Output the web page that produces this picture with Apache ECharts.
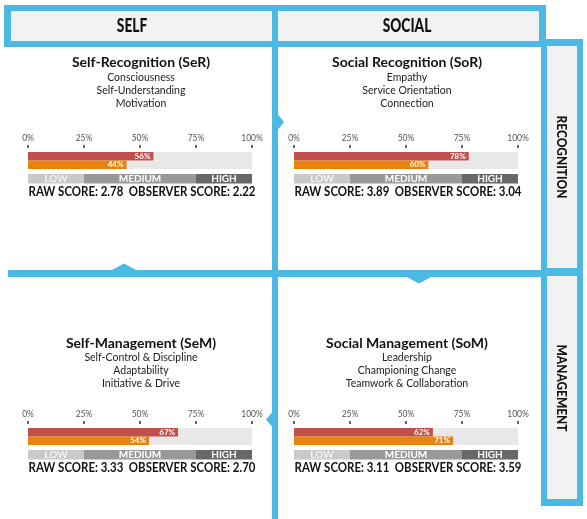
<!DOCTYPE html>
<html>
<head>
<meta charset="utf-8">
<script src="https://cdn.jsdelivr.net/npm/echarts@6/dist/echarts.min.js"></script>
<style>
html,body{margin:0;padding:0;background:#fff;}
#chart{width:587px;height:519px;}
</style>
</head>
<body>
<div id="chart"></div>
<script>
// ---------- data ----------
const columnHeaders = ['SELF', 'SOCIAL'];
const rowHeaders = ['RECOGNITION', 'MANAGEMENT'];
const panelTitles = ['Self-Recognition (SeR)', 'Social Recognition (SoR)', 'Self-Management (SeM)', 'Social Management (SoM)'];
const panelTraits = [
  ['Consciousness', 'Self-Understanding', 'Motivation'],
  ['Empathy', 'Service Orientation', 'Connection'],
  ['Self-Control & Discipline', 'Adaptability', 'Initiative & Drive'],
  ['Leadership', 'Championing Change', 'Teamwork & Collaboration']
];
const barCategories = ['Raw', 'Observer'];
const rawPercent = [56, 78, 67, 62];
const observerPercent = [44, 60, 54, 71];
const rawScores = ['2.78', '3.89', '3.33', '3.11'];
const observerScores = ['2.22', '3.04', '2.70', '3.59'];
const axisMin = 0, axisMax = 100, axisStep = 25;
const bandNames = ['LOW', 'MEDIUM', 'HIGH'];
const bandSpans = [25, 50, 25];

// ---------- style / layout ----------
const BLUE = '#4cb8e4';
const HEAD_BG = '#f2f2f2';
const barColors = ['#c0504d', '#e8830f'];
const bandColors = ['#c9c9c9', '#999999', '#686868'];
const FONT = 'Lato';
const colLeft = [28, 294];
const colCenter = [141, 407];
const rowBarTop = [152, 428];
const rowTitleY = [62, 343];
const rowSubY = [78, 358];
const rowScoreY = [192, 468];

const grids = [], xAxes = [], yAxes = [], series = [];
const graphics = [];

function rect(x, y, w, h, fill) {
  graphics.push({ type: 'rect', shape: { x, y, width: w, height: h }, style: { fill }, silent: true, z: 1 });
}
function poly(points, fill) {
  graphics.push({ type: 'polygon', shape: { points }, style: { fill }, silent: true, z: 1 });
}
function text(str, x, y, opts) {
  graphics.push(Object.assign({
    type: 'text', x, y, silent: true, z: 5,
    style: Object.assign({ text: str, x: 0, y: 0, align: 'center', verticalAlign: 'middle', fontFamily: FONT, fill: '#111' }, opts.style || {})
  }, opts.el || {}));
}

// frame
rect(4, 5, 542, 42, BLUE);
rect(11, 11, 261, 30, HEAD_BG);
rect(278, 11, 261, 30, HEAD_BG);
rect(272, 41, 6, 478, BLUE);
rect(8, 270, 536, 7, BLUE);
rect(541, 39, 42, 467, BLUE);
rect(547, 46, 30, 222, HEAD_BG);
rect(547, 276, 30, 223, HEAD_BG);
poly([[111, 270.5], [124, 263.5], [137, 270.5]], BLUE);
poly([[406, 276.5], [419, 283.5], [432, 276.5]], BLUE);
poly([[277.5, 114], [284, 122], [277.5, 130]], BLUE);
poly([[272.5, 412], [266, 419.5], [272.5, 427]], BLUE);

// headers
text(columnHeaders[0], 132, 26.5, { style: { fontSize: 18, fontWeight: 900, fill: '#111' }, el: { scaleX: 0.76 } });
text(columnHeaders[1], 407, 26.5, { style: { fontSize: 18, fontWeight: 900, fill: '#111' }, el: { scaleX: 0.76 } });
text(rowHeaders[0], 562, 157, { style: { fontSize: 14, fontWeight: 900, fill: '#111' }, el: { rotation: -Math.PI / 2, scaleX: 0.85 } });
text(rowHeaders[1], 562, 388, { style: { fontSize: 14, fontWeight: 900, fill: '#111' }, el: { rotation: -Math.PI / 2, scaleX: 0.85 } });

panelTitles.forEach((title, i) => {
  const c = i % 2, r = Math.floor(i / 2);
  const left = colLeft[c], cx = colCenter[c];
  text(title, cx, rowTitleY[r], { style: { fontSize: 14, fontWeight: 'bold', fill: '#111' } });
  panelTraits[i].forEach((t, k) => {
    text(t, cx, rowSubY[r] + k * 13, { style: { fontSize: 10.5, fill: '#222' } });
  });
  text('RAW SCORE: ' + rawScores[i] + '  OBSERVER SCORE: ' + observerScores[i], left + 114, rowScoreY[r],
    { style: { fontSize: 13, fontWeight: 'bold', fill: '#111' }, el: { scaleX: 0.88 } });

  // bar grid
  const gi = grids.length;
  grids.push({ left, top: rowBarTop[r], width: 224, height: 17, containLabel: false, outerBoundsMode: 'none' });
  xAxes.push({
    gridIndex: gi, type: 'value', min: axisMin, max: axisMax, interval: axisStep, position: 'top', offset: 4,
    axisLine: { show: false }, splitLine: { show: false },
    axisTick: { show: true, length: 3, lineStyle: { color: '#333', width: 1.5 } },
    axisLabel: { show: true, margin: 5, fontSize: 8.5, color: '#555', fontFamily: FONT, formatter: '{value}%' }
  });
  yAxes.push({ gridIndex: gi, type: 'category', data: barCategories, inverse: true, show: false });
  series.push({
    type: 'bar', xAxisIndex: gi, yAxisIndex: gi, barCategoryGap: '0%', silent: true,
    showBackground: true, backgroundStyle: { color: '#e8e8e8' },
    data: [
      { value: rawPercent[i], itemStyle: { color: barColors[0] } },
      { value: observerPercent[i], itemStyle: { color: barColors[1] } }
    ],
    label: { show: true, position: 'insideRight', distance: 3, color: '#fff', fontSize: 8, fontWeight: 'bold', fontFamily: FONT, formatter: p => p.value + '%' }
  });

  // band grid
  const bi = grids.length;
  grids.push({ left, top: rowBarTop[r] + 22, width: 224, height: 9.5, containLabel: false, outerBoundsMode: 'none' });
  xAxes.push({ gridIndex: bi, type: 'value', min: axisMin, max: axisMax, show: false, splitLine: { show: false } });
  yAxes.push({ gridIndex: bi, type: 'category', data: ['band'], show: false });
  bandSpans.forEach((v, j) => {
    series.push({
      type: 'bar', xAxisIndex: bi, yAxisIndex: bi, stack: 'band' + i, barWidth: '100%', silent: true,
      itemStyle: { color: bandColors[j] },
      data: [v],
      label: { show: true, position: 'inside', color: j === 0 ? '#f4f4f4' : '#fff', fontSize: 10, fontWeight: 'bold', fontFamily: FONT, formatter: bandNames[j] }
    });
  });
});

const chart = echarts.init(document.getElementById('chart'), null, { renderer: 'canvas' });
chart.setOption({
  animation: false,
  backgroundColor: '#fff',
  grid: grids,
  xAxis: xAxes,
  yAxis: yAxes,
  series: series,
  graphic: { elements: graphics }
});
</script>
</body>
</html>
